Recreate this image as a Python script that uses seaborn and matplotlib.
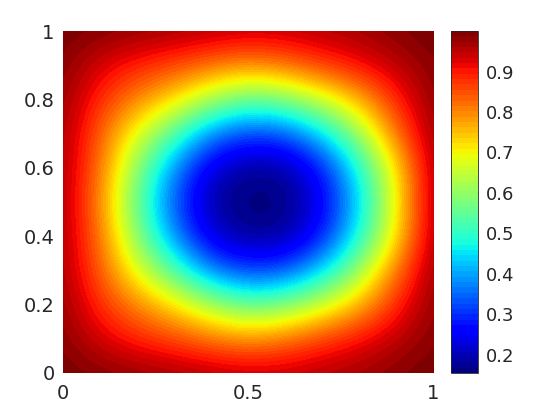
import numpy as np
import matplotlib
matplotlib.use("Agg")
import matplotlib.pyplot as plt
import seaborn as sns

# grid coordinates
x_vals = [0.0, 0.1, 0.2, 0.3, 0.4, 0.5, 0.6, 0.7, 0.8, 0.9, 1.0]
y_vals = [0.0, 0.1, 0.2, 0.3, 0.4, 0.5, 0.6, 0.7, 0.8, 0.9, 1.0]

# field values read row by row (y = 0 ... 1), columns x = 0 ... 1
row_y00 = [1.00, 0.99, 0.98, 0.97, 0.96, 0.95, 0.95, 0.96, 0.97, 0.99, 1.00]
row_y01 = [0.99, 0.93, 0.89, 0.86, 0.82, 0.79, 0.82, 0.87, 0.91, 0.95, 0.99]
row_y02 = [0.98, 0.88, 0.80, 0.72, 0.62, 0.55, 0.58, 0.66, 0.76, 0.89, 0.985]
row_y03 = [0.97, 0.84, 0.68, 0.53, 0.37, 0.31, 0.33, 0.44, 0.61, 0.82, 0.98]
row_y04 = [0.97, 0.82, 0.59, 0.38, 0.22, 0.175, 0.18, 0.28, 0.48, 0.72, 0.975]
row_y05 = [0.97, 0.80, 0.55, 0.33, 0.185, 0.155, 0.16, 0.24, 0.44, 0.70, 0.975]
row_y06 = [0.97, 0.82, 0.59, 0.38, 0.22, 0.175, 0.18, 0.28, 0.48, 0.72, 0.975]
row_y07 = [0.97, 0.84, 0.68, 0.53, 0.37, 0.31, 0.33, 0.44, 0.61, 0.82, 0.98]
row_y08 = [0.98, 0.88, 0.80, 0.72, 0.62, 0.55, 0.58, 0.66, 0.76, 0.89, 0.985]
row_y09 = [0.99, 0.93, 0.89, 0.86, 0.82, 0.79, 0.82, 0.87, 0.91, 0.95, 0.99]
row_y10 = [1.00, 0.99, 0.98, 0.97, 0.96, 0.95, 0.95, 0.96, 0.97, 0.99, 1.00]

x_ticks = [0, 0.5, 1]
x_ticklabels = ["0", "0.5", "1"]
y_ticks = [0, 0.2, 0.4, 0.6, 0.8, 1]
y_ticklabels = ["0", "0.2", "0.4", "0.6", "0.8", "1"]
cbar_ticks = [0.2, 0.3, 0.4, 0.5, 0.6, 0.7, 0.8, 0.9]
cbar_ticklabels = ["0.2", "0.3", "0.4", "0.5", "0.6", "0.7", "0.8", "0.9"]
c_min, c_max = 0.155, 1.0

Z = np.array([row_y00, row_y01, row_y02, row_y03, row_y04, row_y05,
              row_y06, row_y07, row_y08, row_y09, row_y10])

sns.set_theme(style="white")
plt.rcParams["font.family"] = ["DejaVu Sans"]

fig = plt.figure(figsize=(5.6, 4.2), dpi=100)
ax = fig.add_axes([0.1125, 0.112, 0.661, 0.814])
cax = fig.add_axes([0.805, 0.112, 0.048, 0.814])

cmap = plt.get_cmap("jet", 64)
hx = (x_vals[1] - x_vals[0]) / 2
hy = (y_vals[1] - y_vals[0]) / 2
im = ax.imshow(Z, origin="lower", cmap=cmap, vmin=c_min, vmax=c_max,
               extent=[x_vals[0] - hx, x_vals[-1] + hx,
                       y_vals[0] - hy, y_vals[-1] + hy],
               interpolation="bicubic", aspect="auto")
ax.set_xlim(0, 1)
ax.set_ylim(0, 1)
ax.set_xticks(x_ticks)
ax.set_xticklabels(x_ticklabels)
ax.set_yticks(y_ticks)
ax.set_yticklabels(y_ticklabels)
ax.tick_params(axis="both", labelsize=14, labelcolor="#262626", length=0)
ax.tick_params(axis="x", pad=8)
ax.tick_params(axis="y", pad=6)
for s in ax.spines.values():
    s.set_visible(False)

cb = fig.colorbar(im, cax=cax, ticks=cbar_ticks)
cb.set_ticklabels(cbar_ticklabels)
cb.ax.tick_params(labelsize=13, labelcolor="#262626", direction="in",
                  length=3, width=0.8, color="#262626", pad=6)
cb.outline.set_linewidth(0.6)
cb.outline.set_edgecolor("#262626")

fig.savefig("out.png", dpi=100)
